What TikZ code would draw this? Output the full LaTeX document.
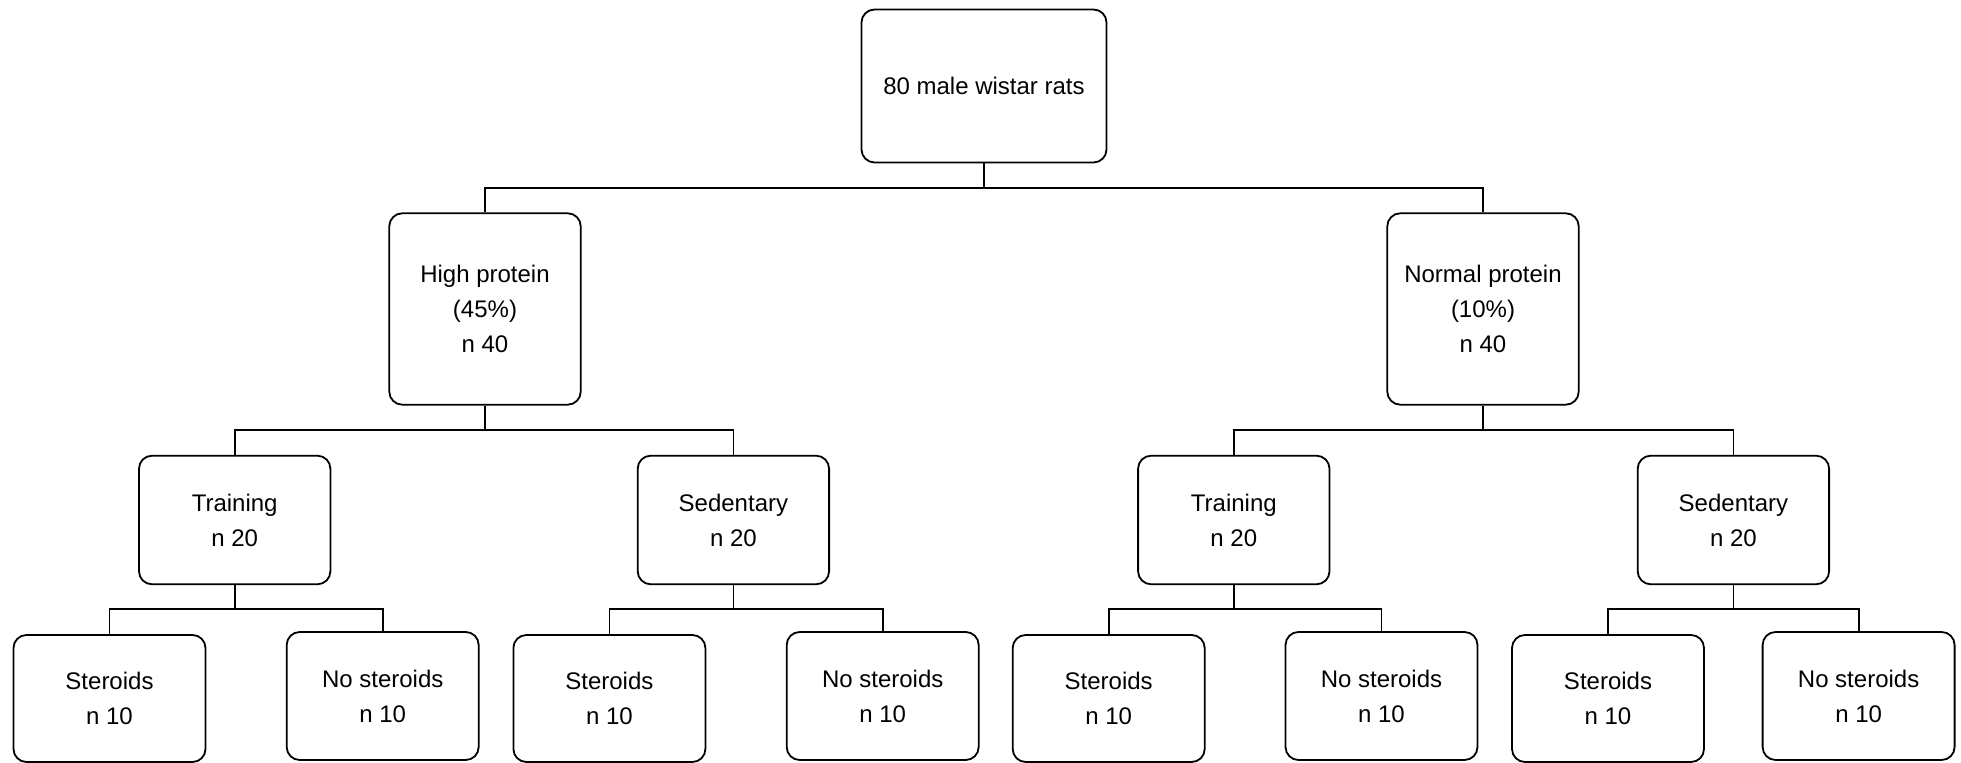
\documentclass[tikz,border=0pt]{standalone}
\usepackage{fontspec}
\setmainfont{Liberation Sans}
\begin{document}
\begin{tikzpicture}[x=0.5pt,y=-0.5pt,
  box/.style={draw=black, line width=0.9pt, rounded corners=6.5pt, inner sep=0pt,
    align=center, font=\fontsize{12pt}{17.5pt}\selectfont, fill=white},
  conn/.style={draw=black, line width=0.9pt}]
\useasboundingbox[fill=white] (0,0) rectangle (1961,763);
% nodes
\node[box, minimum width=122.5pt, minimum height=76.5pt] (root) at (984,86) {80 male wistar rats};
\node[box, minimum width=95.7pt, minimum height=95.7pt] (hp) at (485,309) {High protein\\(45\%)\\n 40};
\node[box, minimum width=95.7pt, minimum height=95.7pt] (np) at (1483,309) {Normal protein\\(10\%)\\n 40};
\node[box, minimum width=95.7pt, minimum height=64.3pt] (tl) at (234.7,520) {Training\\n 20};
\node[box, minimum width=95.7pt, minimum height=64.3pt] (sl) at (733.4,520) {Sedentary\\n 20};
\node[box, minimum width=95.7pt, minimum height=64.3pt] (tr) at (1233.8,520) {Training\\n 20};
\node[box, minimum width=95.7pt, minimum height=64.3pt] (sr) at (1733.4,520) {Sedentary\\n 20};
\node[box, minimum width=96pt, minimum height=63.5pt] (s1) at (109.5,698.5) {Steroids\\n 10};
\node[box, minimum width=96pt, minimum height=64pt] (n1) at (382.7,696) {No steroids\\n 10};
\node[box, minimum width=96pt, minimum height=63.5pt] (s2) at (609.4,698.5) {Steroids\\n 10};
\node[box, minimum width=96pt, minimum height=64pt] (n2) at (882.7,696) {No steroids\\n 10};
\node[box, minimum width=96pt, minimum height=63.5pt] (s3) at (1108.7,698.5) {Steroids\\n 10};
\node[box, minimum width=96pt, minimum height=64pt] (n3) at (1381.5,696) {No steroids\\n 10};
\node[box, minimum width=96pt, minimum height=63.5pt] (s4) at (1608,698.5) {Steroids\\n 10};
\node[box, minimum width=96pt, minimum height=64pt] (n4) at (1858.6,696) {No steroids\\n 10};
% bus levels
\coordinate (b1) at (0,187.7);
\coordinate (b2) at (0,430);
\coordinate (b3) at (0,609);
% connectors
\draw[conn] (root.south) -- (root.south |- b1) -| (hp.north);
\draw[conn] (root.south |- b1) -| (np.north);
\draw[conn] (hp.south) -- (hp.south |- b2) -| (tl.north);
\draw[conn] (hp.south |- b2) -| (sl.north);
\draw[conn] (np.south) -- (np.south |- b2) -| (tr.north);
\draw[conn] (np.south |- b2) -| (sr.north);
\draw[conn] (tl.south) -- (tl.south |- b3) -| (s1.north);
\draw[conn] (tl.south |- b3) -| (n1.north);
\draw[conn] (sl.south) -- (sl.south |- b3) -| (s2.north);
\draw[conn] (sl.south |- b3) -| (n2.north);
\draw[conn] (tr.south) -- (tr.south |- b3) -| (s3.north);
\draw[conn] (tr.south |- b3) -| (n3.north);
\draw[conn] (sr.south) -- (sr.south |- b3) -| (s4.north);
\draw[conn] (sr.south |- b3) -| (n4.north);
\end{tikzpicture}
\end{document}
